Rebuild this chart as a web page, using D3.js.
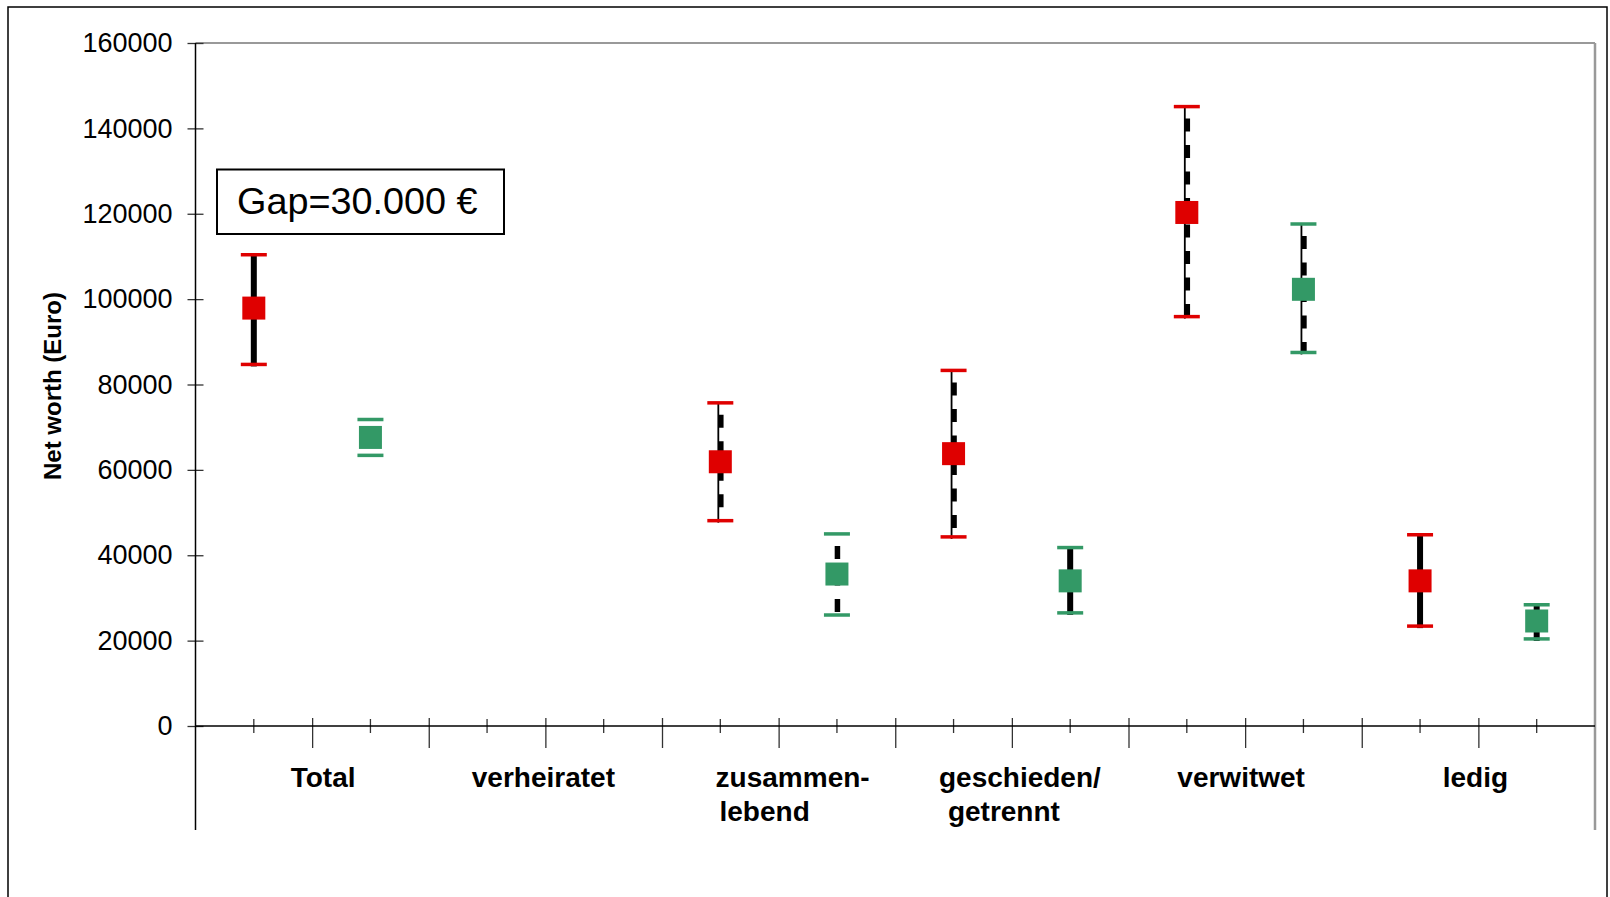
<!DOCTYPE html>
<html>
<head>
<meta charset="utf-8">
<script src="https://cdn.jsdelivr.net/npm/d3@7"></script>
<style>
  html, body { margin: 0; padding: 0; background: #fff; }
  svg { display: block; }
  text { font-family: "Liberation Sans", Arial, sans-serif; fill: #000; }
</style>
</head>
<body>
<svg id="chart" width="1610" height="897"></svg>
<script>
// Marital status groups (line breaks as in the axis labels)
const categories = ["Total", "verheiratet", "zusammen-\nlebend", "geschieden/\ngetrennt", "verwitwet", "ledig"];

// First series (red): mean net worth with interval bounds, Euro
const redMean = [97900, null, 61900, 63800, 120300, 34000];
const redLow  = [84700, null, 48100, 44300, 95900, 23400];
const redHigh = [110400, null, 75700, 83300, 145100, 44800];

// Second series (green)
const greenMean = [67600, null, 35600, 34000, 102300, 24600];
const greenLow  = [63400, null, 26000, 26500, 87500, 20400];
const greenHigh = [71800, null, 45000, 41800, 117600, 28400];

// Stem line style of each interval: "solid", "dashed" (thin rule + dashes) or "dashes"
const redStyle   = ["solid", null, "dashed", "dashed", "dashed", "solid"];
const greenStyle = ["dashes", null, "dashes", "solid", "dashed", "solid"];

const yTicks = [0, 20000, 40000, 60000, 80000, 100000, 120000, 140000, 160000];
const gapLabel = "Gap=30.000 €";
const yTitle = "Net worth (Euro)";

const svg = d3.select("#chart");
const plotLeft = 195.5, plotRight = 1595, plotTop = 43, plotBase = 726, axisFoot = 830;

// horizontal nudge of each category label line, px
const labelNudge = [[11], [-2], [14, -14], [8, -8], [-4], [-3]];

const RED = "#df0000", GREEN = "#339966";

// outer frame
svg.append("rect").attr("x", 8).attr("y", 7).attr("width", 1599).attr("height", 900)
  .attr("fill", "none").attr("stroke", "#000").attr("stroke-width", 1.5);

const y = d3.scaleLinear().domain([0, 160000]).range([plotBase, plotTop]);
const cat = d3.scaleBand().domain(d3.range(categories.length)).range([plotLeft, plotRight]).padding(0);
const sub = d3.scaleBand().domain(["red", "green"]).range([0, cat.bandwidth()]).padding(0);
const slots = d3.scaleBand().domain(d3.range(categories.length * 2)).range([plotLeft, plotRight]).padding(0);
const edges = d3.scaleLinear().domain([0, categories.length * 2]).range([plotLeft, plotRight]);

// plot area border (top and right, grey)
svg.append("line").attr("x1", plotLeft).attr("x2", plotRight).attr("y1", plotTop).attr("y2", plotTop)
  .attr("stroke", "#999").attr("stroke-width", 2);
svg.append("line").attr("x1", plotRight).attr("x2", plotRight).attr("y1", plotTop).attr("y2", axisFoot)
  .attr("stroke", "#999").attr("stroke-width", 2.5);

// y axis
const yAxis = svg.append("g").attr("transform", `translate(${plotLeft},0)`)
  .call(d3.axisLeft(y).tickValues(yTicks).tickSize(8).tickPadding(14).tickFormat(d3.format("d")));
yAxis.select(".domain").remove();
yAxis.selectAll(".tick line").attr("x1", -8).attr("x2", 8).attr("stroke", "#333").attr("stroke-width", 1.3);
yAxis.selectAll(".tick text").attr("font-size", 27).attr("font-family", "Liberation Sans, Arial, sans-serif")
  .attr("x", -23);
svg.append("line").attr("x1", plotLeft).attr("x2", plotLeft).attr("y1", plotTop).attr("y2", axisFoot)
  .attr("stroke", "#000").attr("stroke-width", 1.5);

// x axis: minor ticks at series positions, major ticks between them
const xMinor = svg.append("g").attr("transform", `translate(0,${plotBase})`)
  .call(d3.axisBottom(slots).tickSize(7).tickFormat(""));
xMinor.select(".domain").remove();
xMinor.selectAll(".tick line").attr("y1", -7).attr("y2", 7).attr("stroke", "#333").attr("stroke-width", 1.3);

const xMajor = svg.append("g").attr("transform", `translate(0,${plotBase})`)
  .call(d3.axisBottom(edges).tickValues(d3.range(1, categories.length * 2)).tickSize(22).tickFormat(""));
xMajor.select(".domain").remove();
xMajor.selectAll(".tick line").attr("y1", -8).attr("y2", 22).attr("stroke", "#333").attr("stroke-width", 1.3);

svg.append("line").attr("x1", plotLeft).attr("x2", plotRight).attr("y1", plotBase).attr("y2", plotBase)
  .attr("stroke", "#000").attr("stroke-width", 1.5);

// category labels
categories.forEach((c, i) => {
  const lines = c.split("\n");
  const cx = cat(i) + cat.bandwidth() / 2;
  const t = svg.append("text")
    .attr("x", cx)
    .attr("y", 787)
    .attr("text-anchor", "middle")
    .attr("font-size", 28)
    .attr("font-weight", "bold");
  lines.forEach((ln, k) => {
    t.append("tspan").attr("x", cx + labelNudge[i][k]).attr("dy", k === 0 ? 0 : 34).text(ln);
  });
});

// y axis title
svg.append("text")
  .attr("transform", "translate(52,386) rotate(-90)")
  .attr("text-anchor", "middle")
  .attr("dy", "0.36em")
  .attr("font-size", 24)
  .attr("font-weight", "bold")
  .text(yTitle);

// gap annotation
svg.append("rect").attr("x", 217).attr("y", 169.5).attr("width", 287).attr("height", 64.5)
  .attr("fill", "#fff").attr("stroke", "#000").attr("stroke-width", 2);
svg.append("text").attr("x", 237).attr("y", 214).attr("font-size", 37.8).text(gapLabel);

// intervals and means
function drawSeries(key, mean, low, high, style, color) {
  const g = svg.append("g");
  mean.forEach((m, i) => {
    if (m == null) return;
    const cx = cat(i) + sub(key) + sub.bandwidth() / 2;
    const yHi = y(high[i]), yLo = y(low[i]);
    if (style[i] === "solid") {
      g.append("line").attr("x1", cx).attr("x2", cx).attr("y1", yHi).attr("y2", yLo + 2)
        .attr("stroke", "#000").attr("stroke-width", 6);
    } else {
      if (style[i] === "dashed") {
        g.append("line").attr("x1", cx - 2).attr("x2", cx - 2).attr("y1", yHi).attr("y2", yLo + 2)
          .attr("stroke", "#000").attr("stroke-width", 1.8);
      }
      g.append("line").attr("x1", cx + 0.5).attr("x2", cx + 0.5).attr("y1", yHi).attr("y2", yLo)
        .attr("stroke", "#000").attr("stroke-width", 5.5)
        .attr("stroke-dasharray", "13,13.5").attr("stroke-dashoffset", 14.5);
    }
    [yHi, yLo].forEach(yy => {
      g.append("line").attr("x1", cx - 13).attr("x2", cx + 13).attr("y1", yy).attr("y2", yy)
        .attr("stroke", color).attr("stroke-width", 3.5);
    });
    g.append("rect").attr("x", cx - 11.5).attr("y", y(m) - 11.5).attr("width", 23).attr("height", 23)
      .attr("fill", color);
  });
}
drawSeries("red", redMean, redLow, redHigh, redStyle, RED);
drawSeries("green", greenMean, greenLow, greenHigh, greenStyle, GREEN);
</script>
</body>
</html>
